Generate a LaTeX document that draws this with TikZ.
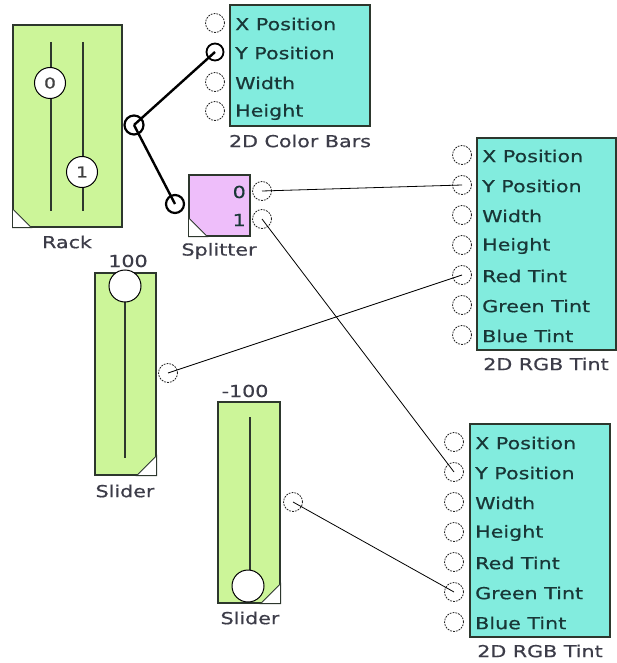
\documentclass[tikz,border=0pt]{standalone}
\usepackage{fontspec}
\setmainfont{DejaVu Sans}[FakeStretch=1.25,FakeBold=0.6]
\definecolor{lgreen}{RGB}{204,245,153}
\definecolor{lcyan}{RGB}{130,236,222}
\definecolor{lpink}{RGB}{238,190,250}
\definecolor{bord}{RGB}{45,55,45}
\definecolor{txt}{RGB}{25,55,55}
\definecolor{labc}{RGB}{60,60,72}
\tikzset{
  box/.style={rectangle, draw=bord, line width=1.2pt, inner sep=0pt},
  gbox/.style={box, fill=lgreen},
  cbox/.style={box, fill=lcyan},
  pbox/.style={box, fill=lpink},
  tri/.style={draw=bord, line width=0.8pt, fill=white},
  track/.style={draw=bord, line width=1.4pt},
  knob/.style={circle, draw=black, line width=1pt, fill=white, minimum size=31pt, inner sep=0pt, font=\fontsize{15}{15}\selectfont, text=black!75},
  bigknob/.style={circle, draw=black, line width=1pt, fill=white, minimum size=32pt, inner sep=0pt},
  port/.style={circle, draw=black!85, line width=0.8pt, dash pattern=on 1.8pt off 1.1pt, fill=white, minimum size=19pt, inner sep=0pt},
  cport/.style={circle, draw=black, line width=2.2pt, fill=white, minimum size=19pt, inner sep=0pt},
  plabel/.style={anchor=west, inner sep=0pt, text=txt},
  blabel/.style={inner sep=0pt, text=labc},
  link/.style={draw=black, line width=0.8pt},
  tlink/.style={draw=black, line width=2.4pt}
}
\begin{document}
\begin{tikzpicture}[x=1pt,y=-1pt,font=\fontsize{16.5}{18}\selectfont]
\useasboundingbox (0,0) rectangle (617,663);

% ---------- Rack ----------
\node[gbox, minimum width=109pt, minimum height=202pt] (rack) at (67.5,126) {};
\draw[tri] (rack.south west) -- ++(0,-19) -- ++(19,19) -- cycle;
\draw[track] (51,42) -- (51,211);
\draw[track] (83,42) -- (83,211);
\node[knob] (k0) at (50,83) {0};
\node[knob] (k1) at (82,172) {1};
\node[blabel] (racklab) at (67,242) {Rack};
\node[cport] (rackout) at (134,125) {};

% ---------- 2D Color Bars ----------
\node[cbox, minimum width=140pt, minimum height=121pt] (cb) at (300,65.5) {};
\node[port] (cbx) at (215,23) {};
\node[cport, minimum size=17pt, line width=1.8pt] (cby) at (215,52) {};
\node[port] (cbw) at (215,82) {};
\node[port] (cbh) at (215,111) {};
\node[plabel] at (235,24) {X Position};
\node[plabel] at (235,53) {Y Position};
\node[plabel] at (235,83) {Width};
\node[plabel] at (235,112) {Height};
\node[blabel] (cblab) at (300,141) {2D Color Bars};

% ---------- Splitter ----------
\node[pbox, minimum width=61pt, minimum height=61pt] (spl) at (219.5,205.5) {};
\draw[tri] (spl.south west) -- ++(0,-19) -- ++(19,19) -- cycle;
\node[anchor=east, inner sep=0pt, text=txt] at (246,192) {0};
\node[anchor=east, inner sep=0pt, text=txt] at (246,220) {1};
\node[blabel] (spllab) at (219,251) {Splitter};
\node[cport, minimum size=18pt] (splin) at (175,204) {};
\node[port] (s0) at (262,191) {};
\node[port] (s1) at (262,219) {};

% ---------- 2D RGB Tint (1) ----------
\node[cbox, minimum width=139pt, minimum height=212pt] (rgbA) at (546.5,244) {};
\foreach \n/\t [count=\i from 0] in {ax/X Position, ay/Y Position, aw/Width, ah/Height, ar/Red Tint, ag/Green Tint, ab/Blue Tint}{
  \node[port] (\n) at (462,{155+30*\i}) {};
  \node[plabel] at (482,{156+30*\i}) {\t};
}
\node[blabel] (rgbAlab) at (546,364) {2D RGB Tint};

% ---------- 2D RGB Tint (2) ----------
\node[cbox, minimum width=140pt, minimum height=213pt] (rgbB) at (540,530.5) {};
\foreach \n/\t [count=\i from 0] in {bx/X Position, by/Y Position, bw/Width, bh/Height, br/Red Tint, bg/Green Tint, bb/Blue Tint}{
  \node[port] (\n) at (454,{442+30*\i}) {};
  \node[plabel] at (475,{443+30*\i}) {\t};
}
\node[blabel] (rgbBlab) at (540,651) {2D RGB Tint};

% ---------- Slider (1) ----------
\node[gbox, minimum width=61pt, minimum height=202pt] (sla) at (125.5,374) {};
\draw[tri] (sla.south east) -- ++(0,-20) -- ++(-20,20) -- cycle;
\draw[track] (125,290) -- (125,458);
\node[bigknob] (slaknob) at (125,286) {};
\node[blabel] (slaval) at (128,261) {100};
\node[blabel] (slalab) at (125,491) {Slider};
\node[port] (slaout) at (168,373) {};

% ---------- Slider (2) ----------
\node[gbox, minimum width=62pt, minimum height=201pt] (slb) at (249,502.5) {};
\draw[tri] (slb.south east) -- ++(0,-20) -- ++(-20,20) -- cycle;
\draw[track] (250,417) -- (250,575);
\node[bigknob] (slbknob) at (248,586) {};
\node[blabel] (slbval) at (245,391) {-100};
\node[blabel] (slblab) at (250,618) {Slider};
\node[port] (slbout) at (293,502) {};

% ---------- connectors ----------
\draw[tlink] (rackout.center) -- (cby.center);
\draw[tlink] (rackout.center) -- (splin.center);
\draw[link] (s0.center) -- (ay.center);
\draw[link] (s1.center) -- (by.center);
\draw[link] (slaout.center) -- (ar.center);
\draw[link] (slbout.center) -- (bg.center);
\end{tikzpicture}
\end{document}
